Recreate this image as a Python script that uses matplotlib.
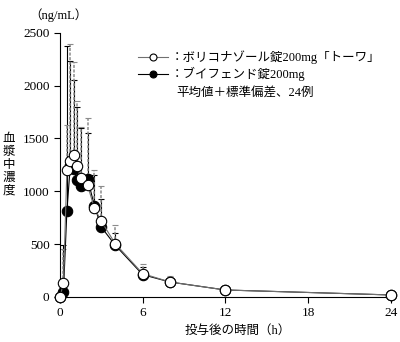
import numpy as np
import matplotlib.pyplot as plt

# 投与後の時間 (h)
t = np.array([0, 0.25, 0.5, 0.75, 1, 1.25, 1.5, 2, 2.5, 3, 4, 6, 8, 12, 24])
# ボリコナゾール錠200mg「トーワ」 平均値 / 標準偏差
towa = np.array([0, 130, 1200, 1290, 1340, 1235, 1130, 1055, 840, 715, 505, 220, 140, 65, 18])
towa_sd = np.array([0, 320, 430, 1100, 880, 620, 480, 635, 360, 330, 180, 90, 60, 25, 12])
# ブイフェンド錠200mg 平均値 / 標準偏差
vfend = np.array([0, 50, 815, 1245, 1215, 1105, 1045, 1120, 860, 660, 490, 210, 140, 65, 18])
vfend_sd = np.array([0, 440, 1560, 985, 835, 695, 555, 435, 290, 270, 110, 70, 35, 20, 10])

xticks = [0, 6, 12, 18, 24]
yticks = [0, 500, 1000, 1500, 2000, 2500]

fonts = ['Liberation Serif', 'Noto Sans CJK JP']
plt.rcParams['font.family'] = fonts

fig = plt.figure(figsize=(4, 3.42), dpi=100)
ax = fig.add_axes([0.15, 0.132, 0.8375, 0.772])

# +SD のみ表示
ax.errorbar(t, vfend, yerr=[np.zeros_like(vfend_sd), vfend_sd], fmt='none',
            ecolor='black', elinewidth=0.8, capsize=2.5, capthick=0.8, zorder=2)
eb = ax.errorbar(t, towa, yerr=[np.zeros_like(towa_sd), towa_sd], fmt='none',
                 ecolor='#8c8c8c', elinewidth=1.1, capsize=2.5, capthick=0.8, zorder=2)
for lc in eb[2]:
    lc.set_linestyle((0, (2, 1)))

ax.plot(t, vfend, '-o', color='black', lw=0.8, ms=7.5, mfc='black', mec='black',
        mew=0.8, zorder=3, clip_on=False)
ax.plot(t, towa, '-o', color='#707070', lw=0.8, ms=7.5, mfc='white', mec='black',
        mew=0.8, zorder=4, clip_on=False)

ax.set_xlim(0, 24.3)
ax.set_ylim(0, 2500)
ax.set_xticks(xticks)
ax.set_yticks(yticks)
ax.tick_params(labelsize=9.5, direction='out', length=4, width=0.8)
for s in ['top', 'right']:
    ax.spines[s].set_visible(False)
for s in ['left', 'bottom']:
    ax.spines[s].set_linewidth(0.8)

fig.text(0.145, 0.956, '（ng/mL）', fontsize=9, ha='center', va='center')
# 縦書きの軸ラベル
for i, ch in enumerate('血漿中濃度'):
    fig.text(0.022, 1 - (139 + 13 * i) / 342, ch, fontsize=9, ha='center', va='center')
ax.set_xlabel('投与後の時間（h）', fontsize=9)
ax.xaxis.set_label_coords(0.53, -0.105)

# 凡例
ax.plot([0.233, 0.322], [0.908, 0.908], transform=ax.transAxes, color='#707070', lw=0.8,
        clip_on=False)
ax.plot([0.278], [0.908], 'o', transform=ax.transAxes, ms=5, mfc='white', mec='black',
        mew=0.8, clip_on=False)
ax.plot([0.233, 0.322], [0.845, 0.845], transform=ax.transAxes, color='black', lw=0.8,
        clip_on=False)
ax.plot([0.278], [0.845], 'o', transform=ax.transAxes, ms=5, mfc='black', mec='black',
        mew=0.8, clip_on=False)
ax.text(0.331, 0.908, '：ボリコナゾール錠200mg「トーワ」', transform=ax.transAxes,
        fontsize=9, va='center')
ax.text(0.331, 0.845, '：ブイフェンド錠200mg', transform=ax.transAxes,
        fontsize=9, va='center')
ax.text(0.346, 0.774, '平均値＋標準偏差、24例', transform=ax.transAxes,
        fontsize=9, va='center')

fig.savefig('out.png', dpi=100)
